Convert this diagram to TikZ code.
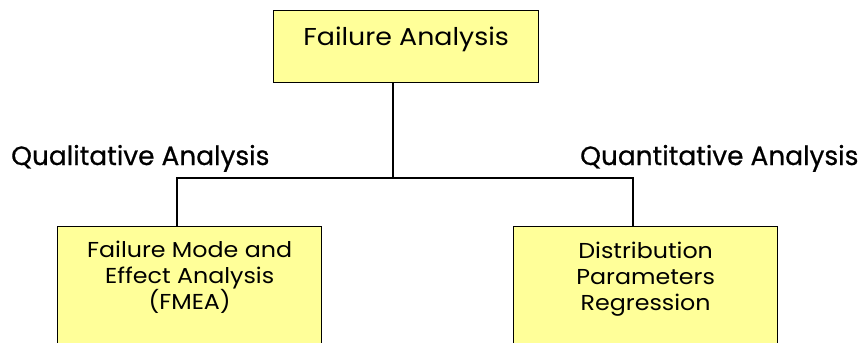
\documentclass[tikz,border=0pt]{standalone}
\usepackage{fontspec}
\setmainfont{Poppins}[FakeStretch=1.1]
\newfontfamily\sidefont{Poppins}[FakeBold=0.6]
\begin{document}
\begin{tikzpicture}[x=1pt,y=-1pt,
  box/.style={draw=black,line width=1.3pt,fill=boxyellow,inner sep=0pt,anchor=north west},
  link/.style={draw=black,line width=1.3pt},
  side/.style={font=\sidefont\fontsize{26.4}{30}\selectfont,inner sep=0pt,anchor=base west}]
\definecolor{boxyellow}{HTML}{FFFF99}
\useasboundingbox (0,0) rectangle (863,343);
\clip (0,0) rectangle (863,343);
% root box
\node[box] (root) at (273,10)
  {\parbox[t][72pt][t]{265pt}{\centering\fontsize{24.4}{26}\selectfont\rule{0pt}{35pt}Failure Analysis}};
% child boxes (run past the lower edge)
\node[box] (fmea) at (57,226)
  {\parbox[t][140pt][t]{264pt}{\centering\fontsize{21.6}{26}\selectfont\rule{0pt}{31pt}Failure Mode and\\Effect Analysis\\(FMEA)}};
\node[box] (dist) at (513,226)
  {\parbox[t][140pt][t]{264pt}{\centering\fontsize{21.6}{26}\selectfont\rule{0pt}{32pt}Distribution\\Parameters\\Regression}};
% branch labels
\node[side] (qual) at (11,165) {Qualitative Analysis};
\node[side] (quant) at (580,165) {Quantitative Analysis};
% connectors
\coordinate (split) at (393,178);
\coordinate (fmeaIn) at (177,226);
\coordinate (distIn) at (633,226);
\draw[link] (root.south -| split) -- (split);
\draw[link] (fmeaIn) |- (split) -| (distIn);
\end{tikzpicture}
\end{document}
